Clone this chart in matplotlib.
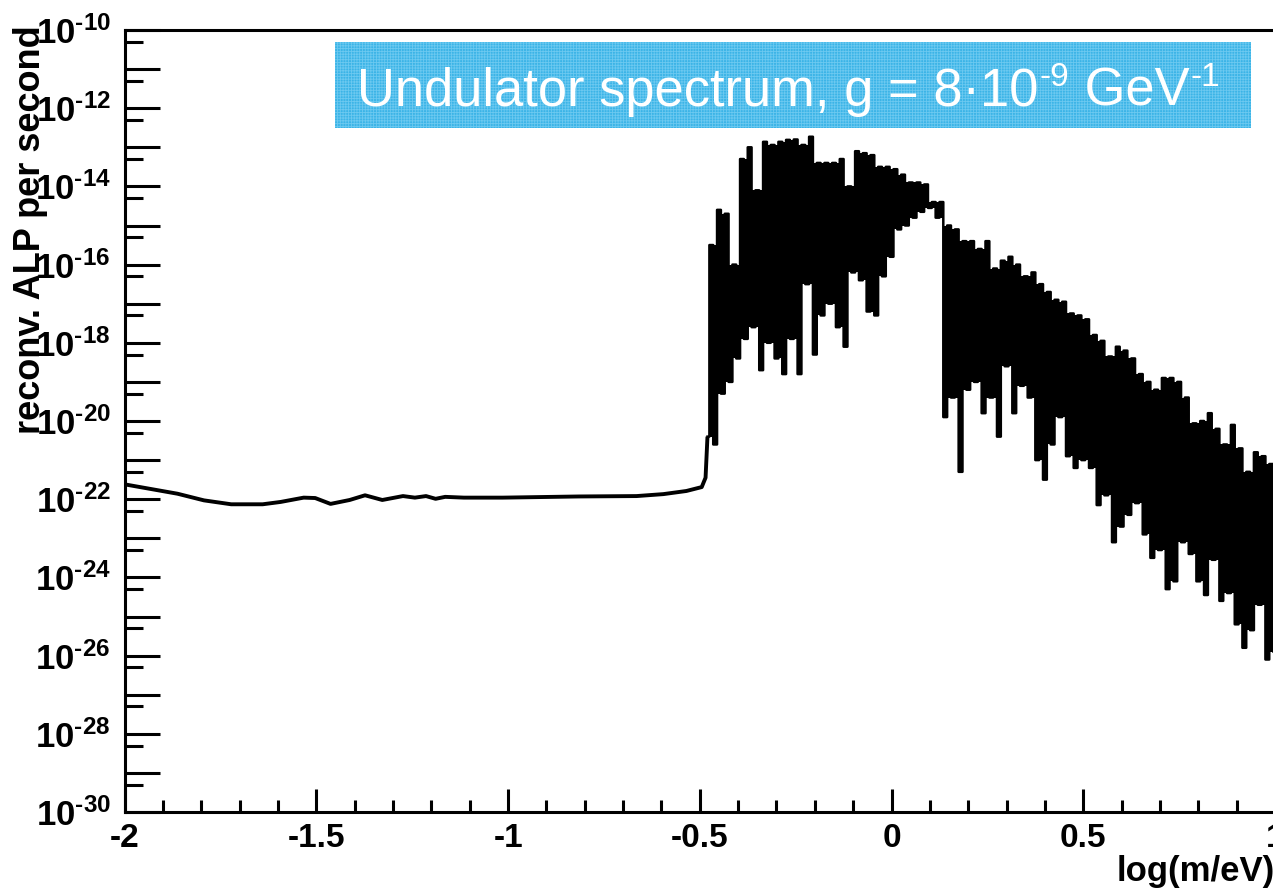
import numpy as np
import matplotlib
matplotlib.use("Agg")
import matplotlib.pyplot as plt
from matplotlib.ticker import FixedLocator, FuncFormatter, FixedFormatter, MultipleLocator
from matplotlib.patches import Rectangle

plt.rcParams["font.family"] = "Liberation Sans"
plt.rcParams["font.weight"] = "bold"
plt.rcParams["axes.unicode_minus"] = False
plt.rcParams["mathtext.fontset"] = "custom"
plt.rcParams["mathtext.rm"] = "Liberation Sans:bold"
plt.rcParams["mathtext.bf"] = "Liberation Sans:bold"
plt.rcParams["mathtext.it"] = "Liberation Sans:bold:italic"
plt.rcParams["hatch.linewidth"] = 0.6

# smooth part of the spectrum (log10 of rate)
smooth_x = [-2.0, -1.862, -1.793, -1.722, -1.64, -1.593, -1.533, -1.503, -1.463,
            -1.413, -1.373, -1.328, -1.274, -1.243, -1.214, -1.189, -1.164, -1.115,
            -1.014, -0.815, -0.665, -0.595, -0.535, -0.495, -0.485]
smooth_logy = [-21.62, -21.86, -22.03, -22.13, -22.13, -22.07, -21.96, -21.97, -22.12,
               -22.02, -21.90, -22.02, -21.92, -21.96, -21.92, -21.99, -21.94, -21.96,
               -21.96, -21.93, -21.92, -21.87, -21.79, -21.69, -21.45]

# noisy part, histogram bins of width 0.01 starting at -0.48
bin_start = -0.48
bin_width = 0.01
noise_logy = [
    # -0.48 .. 0.13
    -20.4, -15.5, -20.6, -14.6, -19.3, -14.7, -19.0, -16.0, -18.4, -13.3,
    -17.9, -13.0, -17.6, -14.1, -18.7, -12.86, -18.0, -12.94, -18.4, -12.86,
    -18.8, -12.81, -17.9, -12.8, -18.8, -12.94, -16.5, -12.73, -18.3, -13.4,
    -17.3, -13.4, -17.0, -13.4, -17.6, -13.3, -18.1, -14.0, -16.2, -13.1,
    -16.4, -13.15, -17.2, -13.2, -17.3, -13.5, -16.3, -13.5, -15.8, -13.56,
    -15.1, -13.7, -15.0, -13.9, -14.8, -13.9, -14.65, -13.95, -14.55, -14.4,
    -14.8, -14.4,
    # 0.14 .. 1.00
    -19.9, -15.0, -19.4, -15.1, -21.3, -15.4, -19.2, -15.4, -19.0, -15.6,
    -19.8, -15.4, -19.4, -16.1, -20.4, -15.9, -18.6, -15.8, -19.8, -16.0,
    -19.1, -16.3, -19.4, -16.2, -21.0, -16.5, -21.5, -16.7, -20.6, -16.9,
    -19.9, -16.95, -20.9, -17.25, -21.2, -17.3, -21.0, -17.4, -21.2, -17.8,
    -22.15, -17.95, -21.9, -18.35, -23.1, -18.1, -22.7, -18.2, -22.4, -18.4,
    -22.1, -18.8, -22.9, -19.0, -23.5, -19.2, -23.3, -18.9, -24.3, -18.9,
    -24.1, -19.0, -23.1, -19.4, -23.4, -20.06, -24.1, -20.0, -24.45, -19.8,
    -23.55, -20.2, -24.6, -20.6, -24.4, -20.1, -25.2, -20.7, -25.8, -21.3,
    -25.35, -20.8, -24.7, -20.9, -26.1, -21.1, -25.9,
]

x_ticks = [-2, -1.5, -1, -0.5, 0, 0.5, 1]
x_ticklabels = ["-2", "-1.5", "-1", "-0.5", "0", "0.5", "1"]
y_decades = list(range(-30, -9))

W, H = 1273, 891
fig = plt.figure(figsize=(W / 100, H / 100), dpi=100)
ax = fig.add_axes([124.6 / W, 1 - 812 / H, (1275 - 124.6) / W, (812 - 30) / H])

noise_x = bin_start + bin_width * np.arange(len(noise_logy))
ny = np.array(noise_logy)

# smooth curve, joined onto the first histogram bin
ax.plot(smooth_x + [noise_x[0]], 10.0 ** np.array(smooth_logy + [noise_logy[0]]),
        color="black", lw=2.8, solid_capstyle="butt")

# the original is binned much finer than one pixel, so the band between
# peaks and dips reads as solid black: fill each bin to reach its neighbours
prev_y = np.concatenate([[ny[0]], ny[:-1]])
next_y = np.concatenate([ny[1:], [ny[-1]]])
band_top = np.maximum(ny, np.minimum(prev_y, next_y))
band_bot = np.minimum(ny, np.maximum(prev_y, next_y))
ax.fill_between(noise_x, 10.0 ** band_bot, 10.0 ** band_top, step="mid",
                color="black", lw=0)
line, = ax.plot(noise_x, 10.0 ** ny, color="black", lw=1.8, drawstyle="steps-mid")
line.set_snap(False)

ax.set_yscale("log")
ax.set_xlim(-2, 1)
ax.set_ylim(1e-30, 1e-10)

ax.yaxis.set_major_locator(FixedLocator([10.0 ** e for e in y_decades]))
ax.yaxis.set_minor_locator(FixedLocator([5 * 10.0 ** e for e in range(-30, -10)]))


def ylab(v, pos):
    e = int(round(np.log10(v)))
    if e % 2:
        return ""
    return r"$\mathregular{10}^{\text{%d}}$" % e


ax.yaxis.set_major_formatter(FuncFormatter(ylab))
ax.yaxis.set_minor_formatter(FuncFormatter(lambda v, p: ""))
ax.xaxis.set_major_locator(FixedLocator(x_ticks))
ax.xaxis.set_major_formatter(FixedFormatter(x_ticklabels))
ax.xaxis.set_minor_locator(MultipleLocator(0.1))

ax.tick_params(axis="y", which="major", direction="in", length=25, width=2.2,
               labelsize=25, pad=10)
ax.tick_params(axis="y", which="minor", direction="in", length=13, width=2.2)
ax.tick_params(axis="x", which="major", direction="in", length=16.5, width=2.2,
               labelsize=24, pad=8)
ax.tick_params(axis="x", which="minor", direction="in", length=8.6, width=2.2)
for s in ax.spines.values():
    s.set_linewidth(2.2)

fig.text(31 / W, 1 - 25 / H, "reconv. ALP per second", rotation=90,
         ha="center", va="top", fontsize=26, fontweight="bold")
fig.text(1275 / W, 1 - 881 / H, "log(m/eV)", ha="right", va="baseline",
         fontsize=25, fontweight="bold")

# title box (light dotted texture on blue)
fig.patches.append(Rectangle((335 / W, 1 - 128 / H), (1251 - 335) / W, (128 - 42) / H,
                             transform=fig.transFigure, facecolor="#3BB4E7",
                             edgecolor="#6CC9F0", hatch="++++++", lw=0, zorder=5))
tkw = dict(color="white", fontweight="normal", zorder=6)
t1 = fig.text(357 / W, 1 - 106 / H, "Undulator spectrum, g = 8·10", ha="left",
              va="baseline", fontsize=37.8, **tkw)
t2 = fig.add_artist(plt.Annotation("-9", xy=(1, 0), xycoords=t1, xytext=(1, 17),
                                   textcoords="offset points", ha="left", va="bottom",
                                   fontsize=24, **tkw))
t3 = fig.add_artist(plt.Annotation(" GeV", xy=(1, 0), xycoords=(t2, t1), xytext=(0, 0),
                                   textcoords="offset points", ha="left", va="bottom",
                                   fontsize=37.8, **tkw))
t4 = fig.add_artist(plt.Annotation("-1", xy=(1, 0), xycoords=(t3, t1), xytext=(1, 17),
                                   textcoords="offset points", ha="left", va="bottom",
                                   fontsize=24, **tkw))

fig.savefig("out.png", dpi=100)
